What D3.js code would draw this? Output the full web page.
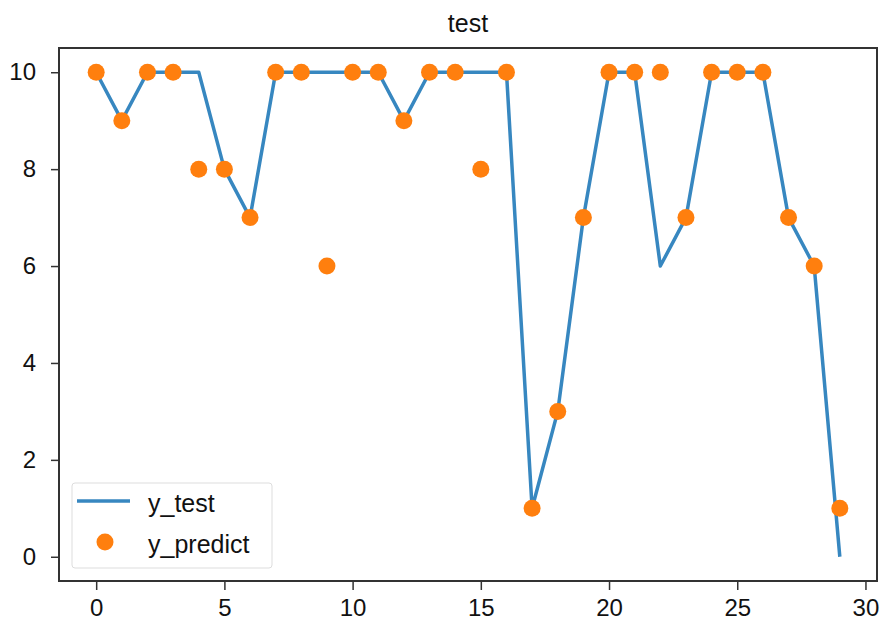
<!DOCTYPE html>
<html>
<head>
<meta charset="utf-8">
<script src="https://cdn.jsdelivr.net/npm/d3@7"></script>
<style>
  body { margin: 0; background: #fff; }
  text { font-family: "Liberation Sans", Arial, sans-serif; }
</style>
</head>
<body>
<div id="chart"></div>
<script>
const width = 882,
  height = 620,
  margin = { top: 48, bottom: 39, left: 59, right: 5 };

// data
const xIndex = d3.range(30);
const yTest = [10, 9, 10, 10, 10, 8, 7, 10, 10, 10, 10, 10, 9, 10, 10, 10, 10, 1, 3, 7, 10, 10, 6, 7, 10, 10, 10, 7, 6, 0];
const yPredict = [10, 9, 10, 10, 8, 8, 7, 10, 10, 6, 10, 10, 9, 10, 10, 8, 10, 1, 3, 7, 10, 10, 10, 7, 10, 10, 10, 7, 6, 1];
const xTicks = [0, 5, 10, 15, 20, 25, 30];
const yTicks = [0, 2, 4, 6, 8, 10];

const lineColor = "#3787c0";
const dotColor = "#ff7f0e";

const svg = d3
  .select("#chart")
  .append("svg")
  .attr("width", width)
  .attr("height", height);

const xScale = d3
  .scaleLinear()
  .domain([-1.45, 30.45])
  .range([margin.left, width - margin.right]);

const yScale = d3
  .scaleLinear()
  .domain([-0.5, 10.5])
  .range([height - margin.bottom, margin.top]);

// axes
const xAxis = svg
  .append("g")
  .attr("transform", `translate(0,${height - margin.bottom})`)
  .call(d3.axisBottom(xScale).tickValues(xTicks).tickSize(9).tickPadding(9));

const yAxis = svg
  .append("g")
  .attr("transform", `translate(${margin.left},0)`)
  .call(d3.axisLeft(yScale).tickValues(yTicks).tickSize(8).tickPadding(15));

[xAxis, yAxis].forEach(g => {
  g.select(".domain").remove();
  g.selectAll("line").attr("stroke", "#333").attr("stroke-width", 1.5);
  g.selectAll("text").attr("font-size", 24).attr("fill", "#111");
});

// frame
svg
  .append("rect")
  .attr("x", margin.left)
  .attr("y", margin.top)
  .attr("width", width - margin.left - margin.right)
  .attr("height", height - margin.top - margin.bottom)
  .attr("fill", "none")
  .attr("stroke", "#333")
  .attr("stroke-width", 2);

// y_test line
const line = d3
  .line()
  .x((d, i) => xScale(xIndex[i]))
  .y(d => yScale(d));

svg
  .append("path")
  .datum(yTest)
  .attr("d", line)
  .attr("fill", "none")
  .attr("stroke", lineColor)
  .attr("stroke-width", 3.5)
  .attr("stroke-linejoin", "round");

// y_predict dots
svg
  .selectAll(".dot")
  .data(yPredict)
  .join("circle")
  .attr("class", "dot")
  .attr("cx", (d, i) => xScale(xIndex[i]))
  .attr("cy", d => yScale(d))
  .attr("r", 8.5)
  .attr("fill", dotColor);

// title
svg
  .append("text")
  .attr("x", (margin.left + width - margin.right) / 2)
  .attr("y", 32)
  .attr("text-anchor", "middle")
  .attr("font-size", 25)
  .attr("fill", "#111")
  .text("test");

// legend
const legend = svg.append("g").attr("transform", "translate(72,483)");

legend
  .append("rect")
  .attr("width", 200)
  .attr("height", 85)
  .attr("rx", 3)
  .attr("fill", "#fff")
  .attr("stroke", "#ddd")
  .attr("stroke-width", 1);

legend
  .append("line")
  .attr("x1", 5)
  .attr("x2", 58)
  .attr("y1", 18)
  .attr("y2", 18)
  .attr("stroke", lineColor)
  .attr("stroke-width", 3.5);

legend
  .append("circle")
  .attr("cx", 33)
  .attr("cy", 59)
  .attr("r", 8.5)
  .attr("fill", dotColor);

legend
  .append("text")
  .attr("x", 76)
  .attr("y", 29)
  .attr("font-size", 25)
  .attr("fill", "#111")
  .text("y_test");

legend
  .append("text")
  .attr("x", 76)
  .attr("y", 70)
  .attr("font-size", 25)
  .attr("fill", "#111")
  .text("y_predict");
</script>
</body>
</html>
